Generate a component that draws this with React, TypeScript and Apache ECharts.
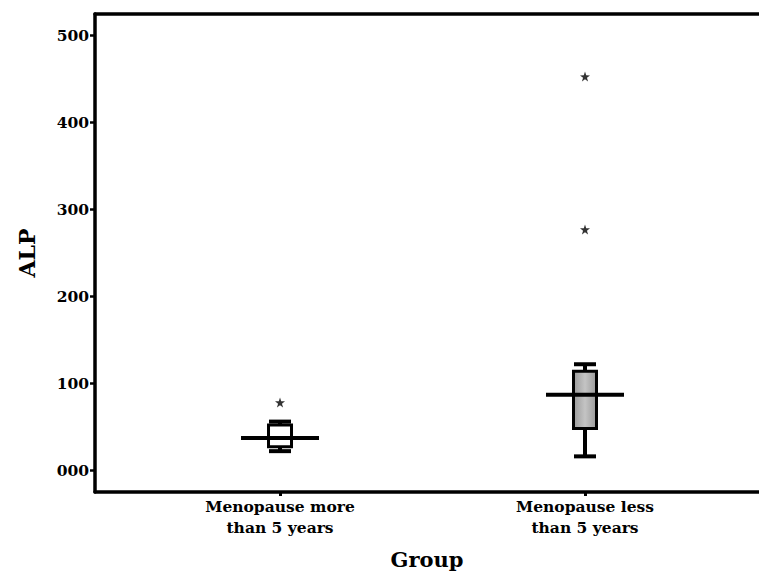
import React, { useEffect, useRef } from "react";
import * as echarts from "echarts";

const categories = ["Menopause more\nthan 5 years", "Menopause less\nthan 5 years"];
const categoryPositions = [1, 2];
// [position, lowerWhisker, Q1, median, Q3, upperWhisker]
const boxMin = [22, 16];
const boxQ1 = [27, 48];
const boxMedian = [37, 87];
const boxQ3 = [52, 114];
const boxMax = [56, 122];
const outliers: [number, number][] = [
  [1, 78],
  [2, 277],
  [2, 453],
];
const yTicks = [0, 100, 200, 300, 400, 500];

const FONT = "DejaVu Serif";
const STAR =
  "path://M50,0 L61.8,35.1 L98.9,35.4 L69.1,57.5 L80.2,92.7 L50,71.3 L19.8,92.7 L30.9,57.5 L1.1,35.4 L38.2,35.1 Z";

const X_MIN = 0.3934;
const X_MAX = 2.5705;

export default function App() {
  const ref = useRef<HTMLDivElement>(null);

  useEffect(() => {
    if (!ref.current) return;
    const chart = echarts.init(ref.current, undefined, { renderer: "svg" });

    const boxData = categoryPositions.map((p, i) => [
      p,
      boxMin[i],
      boxQ1[i],
      boxMedian[i],
      boxQ3[i],
      boxMax[i],
    ]);

    const labelStyle = {
      color: "#000",
      fontFamily: FONT,
      fontWeight: "bold" as const,
      fontSize: 15.5,
    };

    const option: any = {
      animation: false,
      backgroundColor: "#fff",
      grid: { left: 95, top: 14, right: 0, bottom: 82, containLabel: false },
      xAxis: [
        {
          type: "value",
          min: X_MIN,
          max: X_MAX,
          position: "bottom",
          splitLine: { show: false },
          axisLine: { show: true, onZero: false, lineStyle: { color: "#000", width: 3.5 } },
          axisTick: {
            show: true,
            customValues: categoryPositions,
            length: 4,
            lineStyle: { color: "#000", width: 3 },
          },
          axisLabel: {
            ...labelStyle,
            customValues: categoryPositions,
            margin: 4,
            lineHeight: 21,
            formatter: (v: number) => {
              const idx = categoryPositions.indexOf(Math.round(v));
              return idx >= 0 ? categories[idx] : "";
            },
          },
          name: "Group",
          nameLocation: "middle",
          nameGap: 57,
          nameTextStyle: {
            color: "#000",
            fontFamily: FONT,
            fontWeight: "bold",
            fontSize: 21,
          },
        },
        {
          type: "value",
          min: X_MIN,
          max: X_MAX,
          position: "top",
          splitLine: { show: false },
          axisLine: { show: true, onZero: false, lineStyle: { color: "#000", width: 3.5 } },
          axisTick: { show: false },
          axisLabel: { show: false },
        },
      ],
      yAxis: {
        type: "value",
        min: -25,
        max: 525,
        splitLine: { show: false },
        axisLine: { show: true, onZero: false, lineStyle: { color: "#000", width: 3.5 } },
        axisTick: {
          show: true,
          customValues: yTicks,
          length: 5,
          lineStyle: { color: "#000", width: 2.5 },
        },
        axisLabel: {
          ...labelStyle,
          customValues: yTicks,
          margin: 6,
          formatter: (v: number) => String(v).padStart(3, "0"),
        },
        name: "ALP",
        nameLocation: "middle",
        nameGap: 57,
        nameTextStyle: {
          color: "#000",
          fontFamily: FONT,
          fontWeight: "bold",
          fontSize: 22,
        },
      },
      series: [
        {
          type: "custom",
          xAxisIndex: 0,
          data: boxData,
          renderItem: (params: any, api: any) => {
            const x = api.value(0);
            const lo = api.coord([x, api.value(1)]);
            const q1 = api.coord([x, api.value(2)]);
            const med = api.coord([x, api.value(3)]);
            const q3 = api.coord([x, api.value(4)]);
            const hi = api.coord([x, api.value(5)]);
            const cx = lo[0];
            const bw = 23;
            const capW = 22;
            const medHalf = 39;
            const idx = params.dataIndex;
            const fill =
              idx === 0
                ? "#ffffff"
                : new echarts.graphic.LinearGradient(0, 0, 1, 0, [
                    { offset: 0, color: "#9a9a9a" },
                    { offset: 0.5, color: "#c4c4c4" },
                    { offset: 1, color: "#9a9a9a" },
                  ]);
            const stroke = { stroke: "#000", lineWidth: 3.5 };
            return {
              type: "group",
              children: [
                {
                  type: "line",
                  shape: { x1: cx, y1: hi[1], x2: cx, y2: q3[1] },
                  style: { ...stroke, lineWidth: 4 },
                },
                {
                  type: "line",
                  shape: { x1: cx, y1: q1[1], x2: cx, y2: lo[1] },
                  style: { ...stroke, lineWidth: 4 },
                },
                {
                  type: "line",
                  shape: { x1: cx - capW / 2, y1: hi[1], x2: cx + capW / 2, y2: hi[1] },
                  style: { ...stroke, lineWidth: 4 },
                },
                {
                  type: "line",
                  shape: { x1: cx - capW / 2, y1: lo[1], x2: cx + capW / 2, y2: lo[1] },
                  style: { ...stroke, lineWidth: 4 },
                },
                {
                  type: "rect",
                  shape: { x: cx - bw / 2, y: q3[1], width: bw, height: q1[1] - q3[1] },
                  style: { fill, stroke: "#000", lineWidth: 3 },
                },
                {
                  type: "line",
                  shape: { x1: cx - medHalf, y1: med[1], x2: cx + medHalf, y2: med[1] },
                  style: { ...stroke, lineWidth: 4 },
                },
              ],
            };
          },
        },
        {
          type: "scatter",
          xAxisIndex: 0,
          data: outliers,
          symbol: STAR,
          symbolSize: 10,
          itemStyle: { color: "#000" },
        },
      ],
    };

    chart.setOption(option);
    return () => chart.dispose();
  }, []);

  return (
    <div
      ref={ref}
      style={{ position: "absolute", left: 0, top: 0, width: 759, height: 575 }}
    />
  );
}
